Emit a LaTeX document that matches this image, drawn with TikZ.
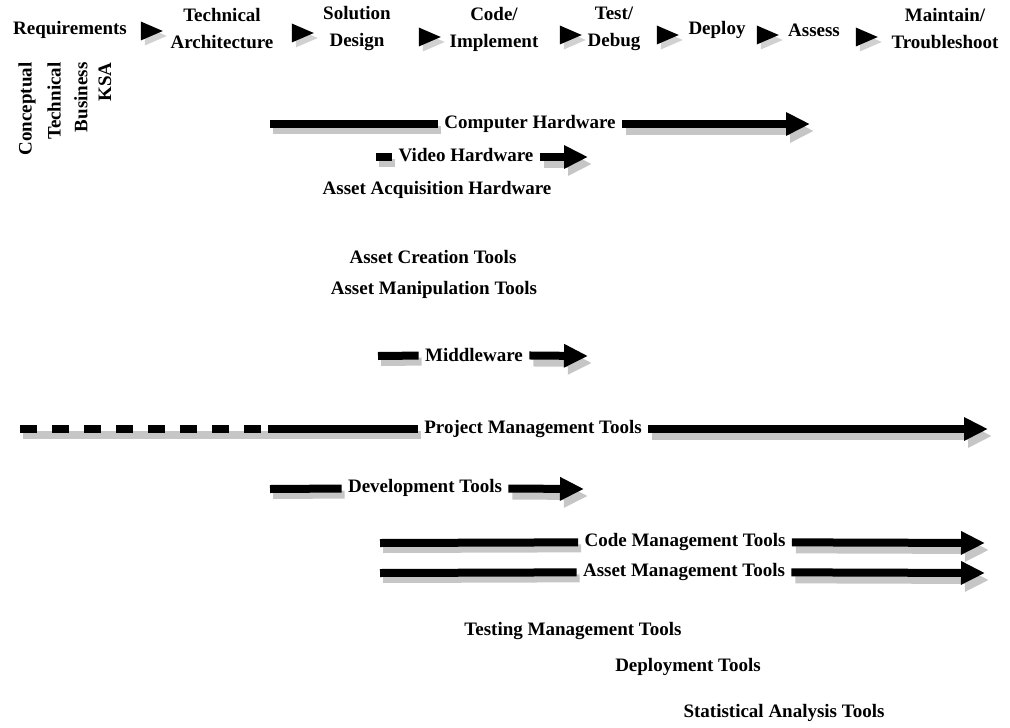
\documentclass[tikz,border=0pt]{standalone}
\usepackage{fontspec}
\setmainfont{Liberation Serif}
\usepackage{xcolor}
\usepackage{tikz}
\usetikzlibrary{shapes.geometric, arrows.meta, positioning, shadows}

\begin{document}
\begin{tikzpicture}[
    x=0.5pt, y=-0.5pt,
    font=\fontsize{9.5}{13.5}\selectfont\bfseries,
    phase/.style={align=center, inner sep=1pt},
    ksa/.style={rotate=90, anchor=east, inner sep=1pt},
    tip/.style={isosceles triangle, isosceles triangle stretches, fill=black, inner sep=0pt,
        minimum width=9.5pt, minimum height=11pt,
        drop shadow={shadow xshift=2pt, shadow yshift=-2.5pt, fill=gray!60, opacity=.6}},
    tool/.style={inner xsep=3pt, inner ysep=1pt},
    bar/.style={line width=4pt, black,
        preaction={draw, gray!45, line width=4pt, transform canvas={xshift=1.5pt, yshift=-3pt}}},
    bararrow/.style={line width=4pt, black, -{Triangle[length=12pt, width=11pt]},
        preaction={draw, gray!45, line width=4pt, -{Triangle[length=12pt, width=11pt]},
            transform canvas={xshift=2pt, yshift=-3.5pt}}},
    dashbar/.style={bar, dash pattern=on 8.5pt off 7.5pt}
]
    \useasboundingbox (0,0) rectangle (1010,727);

    % phases
    \node[phase] (req) at (70,30) {Requirements};
    \node[phase] (arch) at (222,29) {Technical\\Architecture};
    \node[phase] (design) at (357,29) {Solution\\Design};
    \node[phase] (impl) at (494,29) {Code/\\Implement};
    \node[phase] (test) at (614,29) {Test/\\Debug};
    \node[phase] (deploy) at (717,30) {Deploy};
    \node[phase] (assess) at (814,30) {Assess};
    \node[phase] (maint) at (945,29) {Maintain/\\Troubleshoot};
    \node[tip] (t1) at (147,31) {};
    \node[tip] (t2) at (298,33) {};
    \node[tip] (t3) at (425,37) {};
    \node[tip] (t4) at (566,35) {};
    \node[tip] (t5) at (663,35) {};
    \node[tip] (t6) at (763,35) {};
    \node[tip] (t7) at (862,37) {};

    % KSA
    \node[ksa] (concept) at (27,60) {Conceptual};
    \node[ksa] (techn) at (54,60) {Technical};
    \node[ksa] (busi) at (81,60) {Business};
    \node[ksa] (ksa) at (105,60) {KSA};

    % tools
    \node[tool] (chw) at (530,124) {Computer Hardware};
    \coordinate (chw-s) at (270,124);
    \coordinate (chw-e) at (810,124);
    \draw[bar] (chw-s) -- (chw);
    \draw[bararrow] (chw) -- (chw-e);

    \node[tool] (vhw) at (466,155) {Video Hardware};
    \coordinate (vhw-s) at (376,157);
    \coordinate (vhw-e) at (588,157);
    \draw[bar] (vhw-s) -- (vhw.west |- vhw-s);
    \draw[bararrow] (vhw.east |- vhw-e) -- (vhw-e);

    \node[tool] (aah) at (437,190) {Asset Acquisition Hardware};
    \node[tool] (act) at (433,257) {Asset Creation Tools};
    \node[tool] (amt) at (434,290) {Asset Manipulation Tools};

    \node[tool] (mid) at (474,355) {Middleware};
    \coordinate (mid-s) at (378,356);
    \coordinate (mid-e) at (588,356);
    \draw[bar] (mid-s) -- (mid);
    \draw[bararrow] (mid) -- (mid-e);

    \node[tool] (pmt) at (533,429) {Project Management Tools};
    \coordinate (pmt-d) at (20,429);
    \coordinate (pmt-s) at (268,429);
    \coordinate (pmt-e) at (988,429);
    \draw[dashbar] (pmt-d) -- (pmt-s);
    \draw[bar] (pmt-s) -- (pmt);
    \draw[bararrow] (pmt) -- (pmt-e);

    \node[tool] (dev) at (425,488) {Development Tools};
    \coordinate (dev-s) at (270,489);
    \coordinate (dev-e) at (584,489);
    \draw[bar] (dev-s) -- (dev);
    \draw[bararrow] (dev) -- (dev-e);

    \node[tool] (cmt) at (685,542) {Code Management Tools};
    \coordinate (cmt-s) at (380,543);
    \coordinate (cmt-e) at (985,543);
    \draw[bar] (cmt-s) -- (cmt);
    \draw[bararrow] (cmt) -- (cmt-e);

    \node[tool] (asm) at (684,572) {Asset Management Tools};
    \coordinate (asm-s) at (380,573);
    \coordinate (asm-e) at (985,573);
    \draw[bar] (asm-s) -- (asm);
    \draw[bararrow] (asm) -- (asm-e);

    \node[tool] (tmt) at (573,631) {Testing Management Tools};
    \node[tool] (dpt) at (688,667) {Deployment Tools};
    \node[tool] (sat) at (784,713) {Statistical Analysis Tools};
\end{tikzpicture}
\end{document}
